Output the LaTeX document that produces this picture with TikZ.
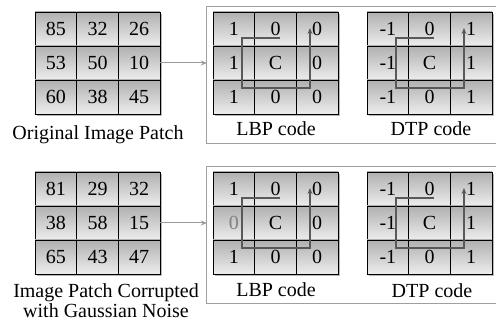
\documentclass[tikz,border=0pt]{standalone}
\usepackage{fontspec}
\setmainfont{Liberation Serif}
\usepackage{xcolor}
\usepackage{tikz}
\usetikzlibrary{shapes,arrows.meta,shadows,calc}

% one 3x3 patch: name, left, top, rows
\newcommand{\codegrid}[4]{%
    \node[gridbg] (#1) at ({#2+62.5},{#3+51}) {};
    \foreach \row [count=\i] in {#4} {
        \foreach \v [count=\j] in \row {
            \node[cell] (#1\i\j) at ({#2+(\j-0.5)*41.667},{#3+(\i-0.5)*34}) {\v};
        }
    }
}
% sampling order drawn over a code patch: left, top
\newcommand{\coderoute}[2]{%
    \draw[route] ({#1+67},{#2+26}) -| ({#1+29},{#2+76}) -| ({#1+97},{#2+16});
}

\begin{document}
\begin{tikzpicture}[x=1pt, y=-1pt,
    font=\fontsize{20}{20}\selectfont,
    cell/.style={rectangle, draw, line width=0.8pt, minimum width=41.667pt, minimum height=34pt, inner sep=0pt,
        top color=gray!62, bottom color=gray!14},
    gridbg/.style={rectangle, draw, line width=0.8pt, minimum width=125pt, minimum height=102pt, inner sep=0pt,
        fill=gray!30, drop shadow={shadow xshift=2pt, shadow yshift=-2pt, fill=black!55}},
    frame/.style={rectangle, minimum width=289pt, minimum height=136pt, inner sep=0pt},
    frameline/.style={draw=gray!75, line width=1.2pt},
    link/.style={-{Stealth[length=6pt, width=5pt]}, draw=gray!80, line width=1pt},
    route/.style={-{Stealth[length=6pt, width=5pt]}, draw=black!65, line width=1.1pt},
    caption/.style={anchor=base, inner sep=0pt}
]
    \useasboundingbox (0,0) rectangle (496,323);

    % Frames
    \node[frame] (tframe) at (351.5,75) {};
    \node[frame] (bframe) at (351.5,235) {};
    \draw[frameline] (tframe.north east) -- (tframe.north west) -- (tframe.south west) -- (tframe.south east);
    \draw[frameline] (bframe.north east) -- (bframe.north west) -- (bframe.south west) -- (bframe.south east);

    % Original patch
    \codegrid{og}{35}{12}{{85,32,26},{53,50,10},{60,38,45}}
    \codegrid{ol}{213}{12}{{1,0,0},{1,C,0},{1,0,0}}
    \codegrid{od}{367}{12}{{-1,0,1},{-1,C,1},{-1,0,1}}
    \coderoute{213}{12}
    \coderoute{367}{12}

    % Noisy patch
    \codegrid{ng}{35}{172}{{81,29,32},{38,58,15},{65,43,47}}
    \codegrid{nl}{213}{172}{{1,0,0},{\textcolor{gray}{0},C,0},{1,0,0}}
    \codegrid{nd}{367}{172}{{-1,0,1},{-1,C,1},{-1,0,1}}
    \coderoute{213}{172}
    \coderoute{367}{172}

    % Labels
    \node[caption] (ogl) at (98,140) {Original Image Patch};
    \node[caption] (oll) at (276,136) {LBP code};
    \node[caption] (odl) at (431,136) {DTP code};
    \node[anchor=north, inner sep=0pt, align=center] (ngl) at (106,283.5) {Image Patch Corrupted\\with Gaussian Noise};
    \node[caption] (nll) at (276,297) {LBP code};
    \node[caption] (ndl) at (432,298) {DTP code};

    % Arrows
    \draw[link] (og.east) -- (og.east -| tframe.west);
    \draw[link] (ng.east) -- (ng.east -| bframe.west);
\end{tikzpicture}
\end{document}
